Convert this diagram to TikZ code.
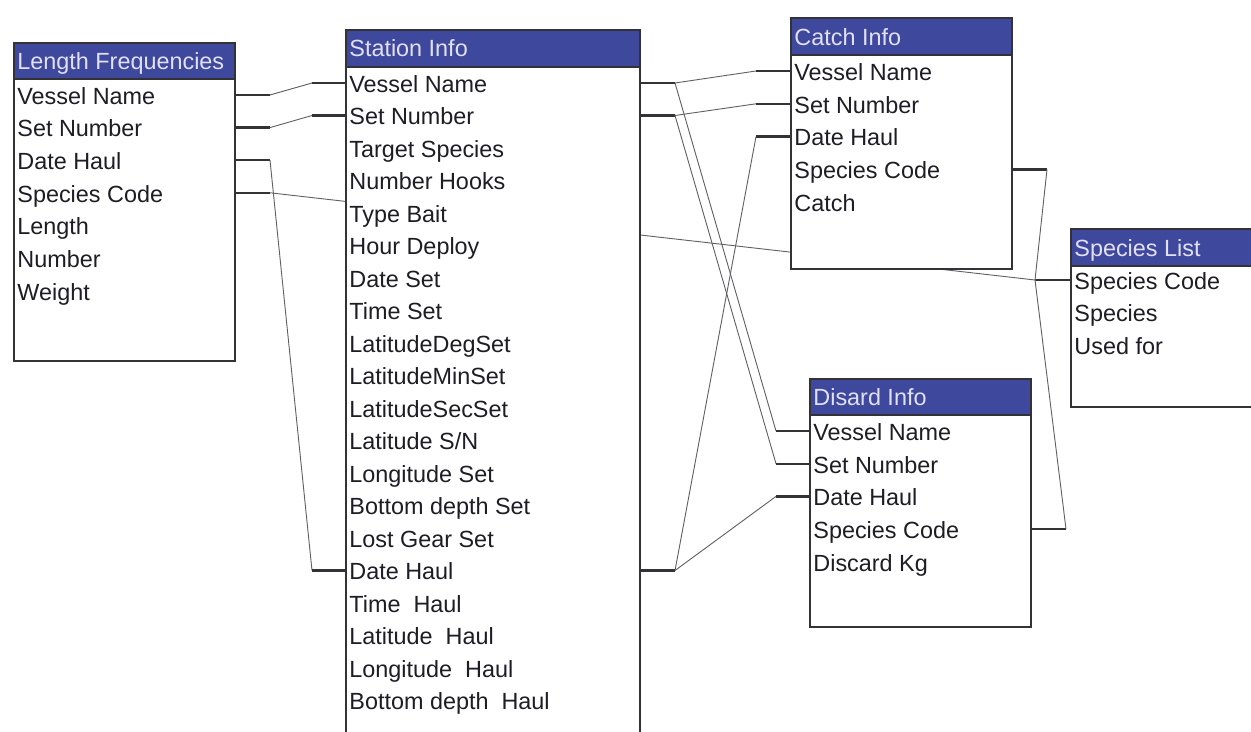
\documentclass[tikz,border=0pt]{standalone}
\usepackage{fontspec}
\setmainfont{Liberation Sans}
\usetikzlibrary{fit}
\pgfdeclarelayer{bg}
\pgfsetlayers{bg,main}
\definecolor{hdr}{RGB}{62,72,156}
\definecolor{hdrtxt}{RGB}{226,224,246}
\definecolor{ink}{RGB}{30,28,36}
\definecolor{edge}{RGB}{50,50,55}
\definecolor{thin}{RGB}{95,95,100}
\begin{document}
\begin{tikzpicture}[x=0.5pt,y=-0.5pt,
  tbl/.style={draw=edge, line width=0.8pt, fill=white, inner sep=0pt},
  hdrbox/.style={draw=edge, line width=0.8pt, fill=hdr, inner sep=0pt},
  title/.style={anchor=mid west, inner sep=0pt, text=hdrtxt, font=\fontsize{11.7}{13}\selectfont},
  fld/.style={anchor=west, inner sep=0pt, text height=0.94em, text depth=0pt, text=ink, font=\fontsize{11.7}{13}\selectfont},
  stub/.style={draw=edge, line width=1.2pt},
  link/.style={draw=thin, line width=0.45pt}]

\begin{pgfonlayer}{bg}
  \fill[white] (0,0) rectangle (1251,732);
\end{pgfonlayer}
\useasboundingbox (0,0) rectangle (1251,732);

% ---------- tables ----------
% Length Frequencies
\node[tbl, fit={(14,43) (235,361)}] (lf) {};
\node[hdrbox, fit={(14,43) (235,79)}] (lfh) {};
\node[title] (lft) at (17,64) {Length Frequencies};
\foreach \t [count=\i from 0] in {Vessel Name, Set Number, Date Haul, Species Code, Length, Number, Weight}
  \node[fld] (lf-\i) at (17,{95+32.6*\i}) {\t};

% Station Info
\node[tbl, fit={(346,30) (640,745)}] (st) {};
\node[hdrbox, fit={(346,30) (640,67)}] (sth) {};
\node[title] (stt) at (349,51) {Station Info};
\foreach \t [count=\i from 0] in {Vessel Name, Set Number, Target Species, Number Hooks, Type Bait, Hour Deploy, Date Set, Time Set, LatitudeDegSet, LatitudeMinSet, LatitudeSecSet, Latitude S/N, Longitude Set, Bottom depth Set, Lost Gear Set, Date Haul, Time~~Haul, Latitude~~Haul, Longitude~~Haul, Bottom depth~~Haul}
  \node[fld] (st-\i) at (349,{83+32.5*\i}) {\t};

% Catch Info
\node[tbl, fit={(791,18) (1012,269)}] (ci) {};
\node[hdrbox, fit={(791,18) (1012,55)}] (cih) {};
\node[title] (cit) at (794,40) {Catch Info};
\foreach \t [count=\i from 0] in {Vessel Name, Set Number, Date Haul, Species Code, Catch}
  \node[fld] (ci-\i) at (794,{71+32.8*\i}) {\t};

% Species List
\node[tbl, fit={(1071,229) (1262,407)}] (sp) {};
\node[hdrbox, fit={(1071,229) (1262,266)}] (sph) {};
\node[title] (spt) at (1074,251) {Species List};
\foreach \t [count=\i from 0] in {Species Code, Species, Used for}
  \node[fld] (sp-\i) at (1074,{280+32.5*\i}) {\t};

% Disard Info
\node[tbl, fit={(810,379) (1031,627)}] (di) {};
\node[hdrbox, fit={(810,379) (1031,415)}] (dih) {};
\node[title] (dit) at (813,400) {Disard Info};
\foreach \t [count=\i from 0] in {Vessel Name, Set Number, Date Haul, Species Code, Discard Kg}
  \node[fld] (di-\i) at (813,{431+32.7*\i}) {\t};

% ---------- bend columns ----------
\coordinate (lfx) at (270,0);
\coordinate (stx) at (312,0);
\coordinate (srx) at (675,0);
\coordinate (cix) at (756,0);
\coordinate (dix) at (776,0);
\coordinate (cex) at (1047,0);
\coordinate (dex) at (1066,0);
\coordinate (spx) at (1035,0);
\coordinate (spj) at (spx |- sp-0);

% ---------- connectors ----------
\begin{pgfonlayer}{bg}
  % Length Frequencies -> Station Info
  \draw[stub] (lf.east |- lf-0) -- (lfx |- lf-0);
  \draw[link] (lfx |- lf-0) -- (stx |- st-0);
  \draw[stub] (stx |- st-0) -- (st.west |- st-0);
  \draw[stub] (lf.east |- lf-1) -- (lfx |- lf-1);
  \draw[link] (lfx |- lf-1) -- (stx |- st-1);
  \draw[stub] (stx |- st-1) -- (st.west |- st-1);
  \draw[stub] (lf.east |- lf-2) -- (lfx |- lf-2);
  \draw[link] (lfx |- lf-2) -- (stx |- st-15);
  \draw[stub] (stx |- st-15) -- (st.west |- st-15);
  % Length Frequencies species -> Species List
  \draw[stub] (lf.east |- lf-3) -- (lfx |- lf-3);
  \draw[link] (lfx |- lf-3) -- (spj);
  \draw[stub] (spj) -- (sp.west |- sp-0);
  % Station Info -> Catch Info / Disard Info
  \draw[stub] (st.east |- st-0) -- (srx |- st-0);
  \draw[link] (srx |- st-0) -- (cix |- ci-0);
  \draw[link] (srx |- st-0) -- (dix |- di-0);
  \draw[stub] (cix |- ci-0) -- (ci.west |- ci-0);
  \draw[stub] (dix |- di-0) -- (di.west |- di-0);
  \draw[stub] (st.east |- st-1) -- (srx |- st-1);
  \draw[link] (srx |- st-1) -- (cix |- ci-1);
  \draw[link] (srx |- st-1) -- (dix |- di-1);
  \draw[stub] (cix |- ci-1) -- (ci.west |- ci-1);
  \draw[stub] (dix |- di-1) -- (di.west |- di-1);
  \draw[stub] (st.east |- st-15) -- (srx |- st-15);
  \draw[link] (srx |- st-15) -- (cix |- ci-2);
  \draw[link] (srx |- st-15) -- (dix |- di-2);
  \draw[stub] (cix |- ci-2) -- (ci.west |- ci-2);
  \draw[stub] (dix |- di-2) -- (di.west |- di-2);
  % Catch / Disard species -> Species List
  \draw[stub] (ci.east |- ci-3) -- (cex |- ci-3);
  \draw[link] (cex |- ci-3) -- (spj);
  \draw[stub] (di.east |- di-3) -- (dex |- di-3);
  \draw[link] (dex |- di-3) -- (spj);
\end{pgfonlayer}
\end{tikzpicture}
\end{document}
